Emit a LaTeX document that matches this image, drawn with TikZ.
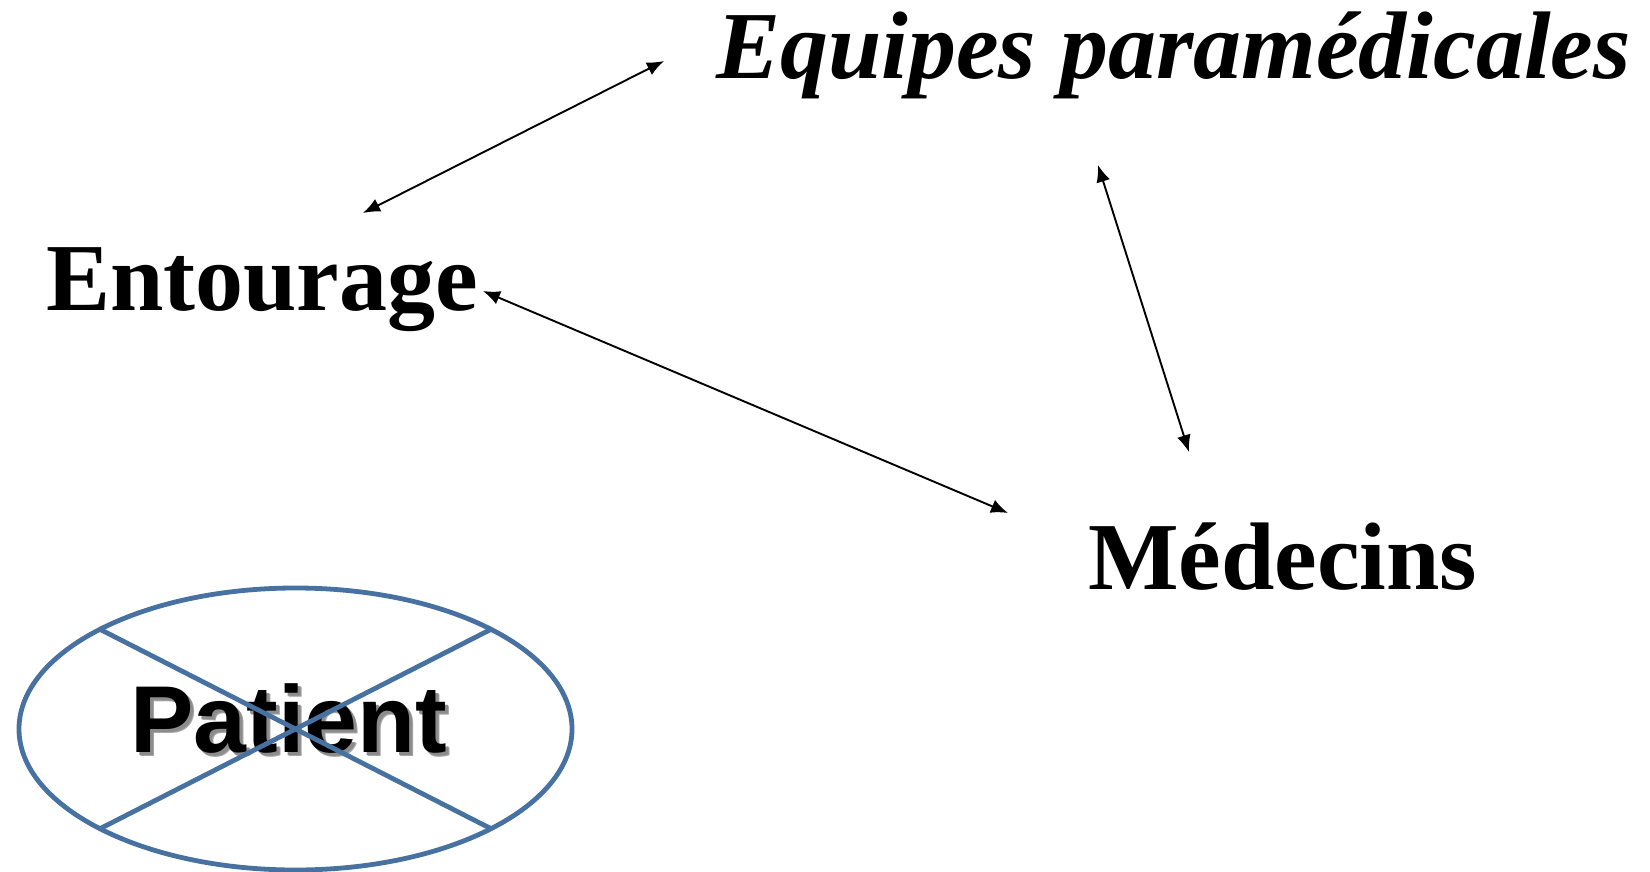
\documentclass[tikz,border=0pt]{standalone}
\usepackage{fontspec}
\setmainfont{Liberation Serif}
\newfontfamily\arialfont{Liberation Sans}
\usetikzlibrary{arrows.meta,shapes.geometric}
\definecolor{steel}{HTML}{4671A0}
\tikzset{
  lbl/.style={anchor=base west, inner sep=0pt, outer sep=0pt, font=\fontsize{96}{100}\selectfont\bfseries},
  biarrow/.style={line width=1.9pt, {Latex[length=17pt,width=14pt]}-{Latex[length=17pt,width=14pt]}},
  blueline/.style={draw=steel, line width=4.8pt},
}
\newcommand{\shadowtext}[1]{\rlap{\hspace{4pt}\raisebox{-4pt}{\textcolor{black!35}{#1}}}\rlap{\hspace{3pt}\raisebox{-3pt}{\textcolor{black!45}{#1}}}#1}
\begin{document}
\begin{tikzpicture}[x=1pt,y=-1pt]
\useasboundingbox (0,0) rectangle (1650,872);
% labels
\node[lbl, font=\fontsize{96}{100}\selectfont\bfseries\itshape] (equipes) at (716,79) {Equipes paramédicales};
\node[lbl] (entourage) at (46,310) {Entourage};
\node[lbl] (medecins) at (1088,589) {Médecins};
\node[anchor=base west, inner sep=0pt, font=\fontsize{95}{100}\selectfont\arialfont\bfseries] (patient) at (130,752) {\shadowtext{Patient}};
% arrow end points
\coordinate (e1) at (363,213);
\coordinate (q1) at (664,61);
\coordinate (q2) at (1098,165);
\coordinate (m2) at (1189,452);
\coordinate (e3) at (483,291);
\coordinate (m3) at (1008,513);
\draw[biarrow] (e1) -- (q1);
\draw[biarrow] (q2) -- (m2);
\draw[biarrow] (e3) -- (m3);
% crossed ellipse
\node[ellipse, blueline, minimum width=553pt, minimum height=282pt, inner sep=0pt, outer sep=0pt] (pat) at (295.5,729) {};
\draw[blueline] (pat.north west) -- (pat.south east);
\draw[blueline] (pat.south west) -- (pat.north east);
\end{tikzpicture}
\end{document}
